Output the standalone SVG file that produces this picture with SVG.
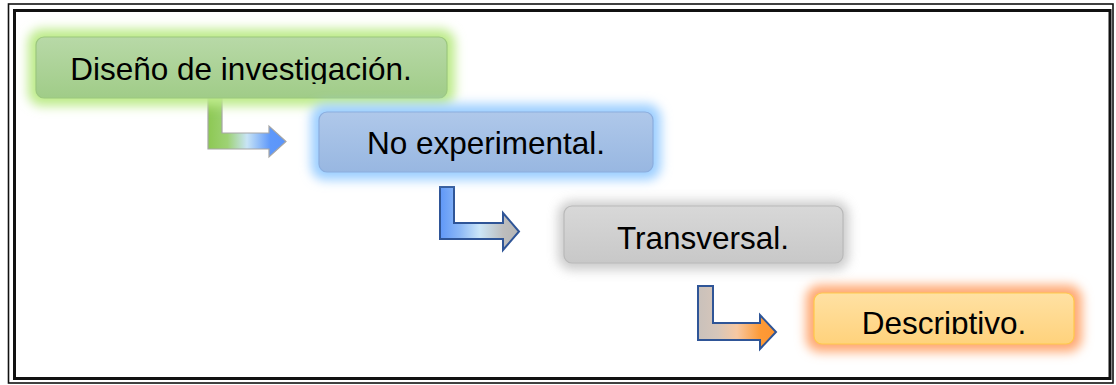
<svg xmlns="http://www.w3.org/2000/svg" width="1116" height="385" viewBox="0 0 1116 385">
  <style>
    .label { font-family: "Liberation Sans", Arial, sans-serif; font-size: 31.5px; fill: #000; text-anchor: middle; }
    .box { stroke-width: 1.2; }
    .halo { filter: url(#soft); }
    .arrow-light { stroke: #a6a6a6; stroke-width: 1.2; }
    .arrow-dark { stroke: #2f5597; stroke-width: 2; }
  </style>
  <defs>
    <filter id="soft" x="-20%" y="-60%" width="140%" height="220%">
      <feGaussianBlur stdDeviation="5.5"/>
    </filter>
    <linearGradient id="gGreen" x1="0" y1="0" x2="0" y2="1">
      <stop offset="0" stop-color="#b8d9a7"/>
      <stop offset="1" stop-color="#a0cc88"/>
    </linearGradient>
    <linearGradient id="gBlue" x1="0" y1="0" x2="0" y2="1">
      <stop offset="0" stop-color="#afc8ea"/>
      <stop offset="1" stop-color="#98b7e1"/>
    </linearGradient>
    <linearGradient id="gGray" x1="0" y1="0" x2="0" y2="1">
      <stop offset="0" stop-color="#d8d8d8"/>
      <stop offset="1" stop-color="#c8c8c8"/>
    </linearGradient>
    <linearGradient id="gOrange" x1="0" y1="0" x2="0" y2="1">
      <stop offset="0" stop-color="#ffe1a3"/>
      <stop offset="1" stop-color="#ffd27c"/>
    </linearGradient>
    <linearGradient id="aGreenBlue" x1="0" y1="0" x2="1" y2="0">
      <stop offset="0" stop-color="#8dc853"/>
      <stop offset="0.25" stop-color="#9ed275"/>
      <stop offset="0.5" stop-color="#c8e4f6"/>
      <stop offset="0.8" stop-color="#5e98fa"/>
      <stop offset="1" stop-color="#5a94fa"/>
    </linearGradient>
    <linearGradient id="aBlueGray" x1="0" y1="0" x2="1" y2="0">
      <stop offset="0" stop-color="#5f97f8"/>
      <stop offset="0.25" stop-color="#8cb8f6"/>
      <stop offset="0.5" stop-color="#cbe6f8"/>
      <stop offset="0.8" stop-color="#bdbdbd"/>
      <stop offset="1" stop-color="#b5b5b5"/>
    </linearGradient>
    <linearGradient id="aGrayOrange" x1="0" y1="0" x2="1" y2="0">
      <stop offset="0" stop-color="#c9c1bb"/>
      <stop offset="0.25" stop-color="#d6c6ba"/>
      <stop offset="0.5" stop-color="#f7c8a2"/>
      <stop offset="0.8" stop-color="#fd9a36"/>
      <stop offset="1" stop-color="#fd9430"/>
    </linearGradient>
    <clipPath id="clipTop"><rect x="30" y="30" width="430" height="54"/></clipPath>
    <clipPath id="clipBottom"><rect x="805" y="285" width="280" height="49"/></clipPath>
  </defs>

  <rect width="1116" height="385" fill="#ffffff"/>

  <!-- double page frame: thin outer rule, heavy inner rule -->
  <rect x="8.5" y="4" width="1104.5" height="379" fill="none" stroke="#111" stroke-width="1.6"/>
  <rect x="14.5" y="10.5" width="1095.5" height="368" fill="none" stroke="#111" stroke-width="3"/>

  <!-- connectors: bent arrows linking each level to the next -->
  <g id="connectors">
    <path class="arrow-light" fill="url(#aGreenBlue)" d="M208,97 H222 V133 H269 V126 L286,141.5 L269,157 V149 H208 Z"/>
    <path class="arrow-dark" fill="url(#aBlueGray)" d="M440,187 H454 V223 H503 V213 L519,231.5 L503,250 V239 H440 Z"/>
    <path class="arrow-dark" fill="url(#aGrayOrange)" d="M698,286 H713 V323 H760 V315 L776,332 L760,349 V340 H698 Z"/>
  </g>

  <g id="node-diseno">
    <rect class="halo" x="28" y="29" width="427" height="77" rx="14" fill="#bdeb8a"/>
    <rect class="box" x="36" y="37" width="411" height="61" rx="8" fill="url(#gGreen)" stroke="#9cc77f"/>
    <text class="label" x="241" y="80" clip-path="url(#clipTop)">Diseño de investigación.</text>
  </g>

  <g id="node-no-experimental">
    <rect class="halo" x="311" y="104" width="350" height="76" rx="14" fill="#9ccfff"/>
    <rect class="box" x="319" y="112" width="334" height="60" rx="8" fill="url(#gBlue)" stroke="#8badde"/>
    <text class="label" x="486" y="154">No experimental.</text>
  </g>

  <g id="node-transversal">
    <rect class="halo" x="558" y="201" width="291" height="69" rx="14" fill="#b0b0b0" opacity="0.65"/>
    <rect class="box" x="564" y="206" width="279" height="57" rx="8" fill="url(#gGray)" stroke="#b9b9b9"/>
    <text class="label" x="703" y="249">Transversal.</text>
  </g>

  <g id="node-descriptivo">
    <rect class="halo" x="806" y="285" width="276" height="67" rx="14" fill="#ffa872"/>
    <rect class="box" x="814" y="293" width="260" height="51" rx="8" fill="url(#gOrange)" stroke="#ffc94a"/>
    <text class="label" x="944" y="334" clip-path="url(#clipBottom)">Descriptivo.</text>
  </g>
</svg>
